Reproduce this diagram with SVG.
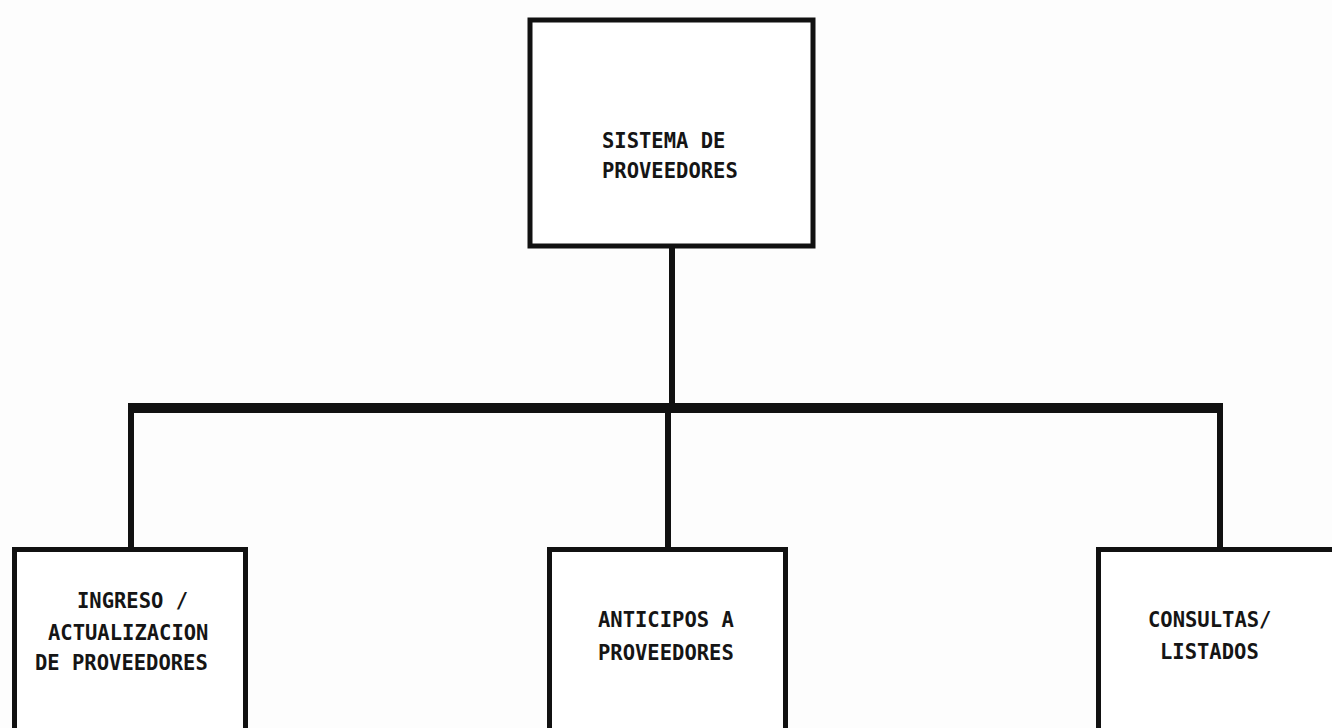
<svg xmlns="http://www.w3.org/2000/svg" width="1332" height="728" viewBox="0 0 1332 728">
<style>
.box{fill:#fff;stroke:#111;stroke-width:5}
.t{font-family:"DejaVu Sans Mono","Liberation Mono",monospace;font-weight:bold;font-size:20.5px;fill:#151515}
.c{stroke:#111;fill:none}
</style>
<rect width="1332" height="728" fill="#fdfdfd"/>
<g id="connectors">
<line class="c" x1="672" y1="248" x2="672" y2="408" stroke-width="6"/>
<line class="c" x1="128" y1="408" x2="1223" y2="408" stroke-width="10"/>
<line class="c" x1="131" y1="404" x2="131" y2="549" stroke-width="6"/>
<line class="c" x1="668" y1="408" x2="668" y2="549" stroke-width="6"/>
<line class="c" x1="1220" y1="404" x2="1220" y2="549" stroke-width="6"/>
</g>
<g id="root">
<rect class="box" x="530" y="20" width="283" height="226"/>
<text class="t" x="602" y="148">SISTEMA DE</text>
<text class="t" x="602" y="178">PROVEEDORES</text>
</g>
<g id="ingreso">
<rect class="box" x="14.5" y="549.5" width="231" height="200"/>
<text class="t" x="77" y="608">INGRESO /</text>
<text class="t" x="48" y="640">ACTUALIZACION</text>
<text class="t" x="35" y="670">DE PROVEEDORES</text>
</g>
<g id="anticipos">
<rect class="box" x="549.5" y="549.5" width="236" height="200"/>
<text class="t" x="598" y="627">ANTICIPOS A</text>
<text class="t" x="598" y="660">PROVEEDORES</text>
</g>
<g id="consultas">
<rect class="box" x="1098.5" y="549.5" width="260" height="200"/>
<text class="t" x="1148" y="627">CONSULTAS/</text>
<text class="t" x="1160" y="659">LISTADOS</text>
</g>
</svg>
